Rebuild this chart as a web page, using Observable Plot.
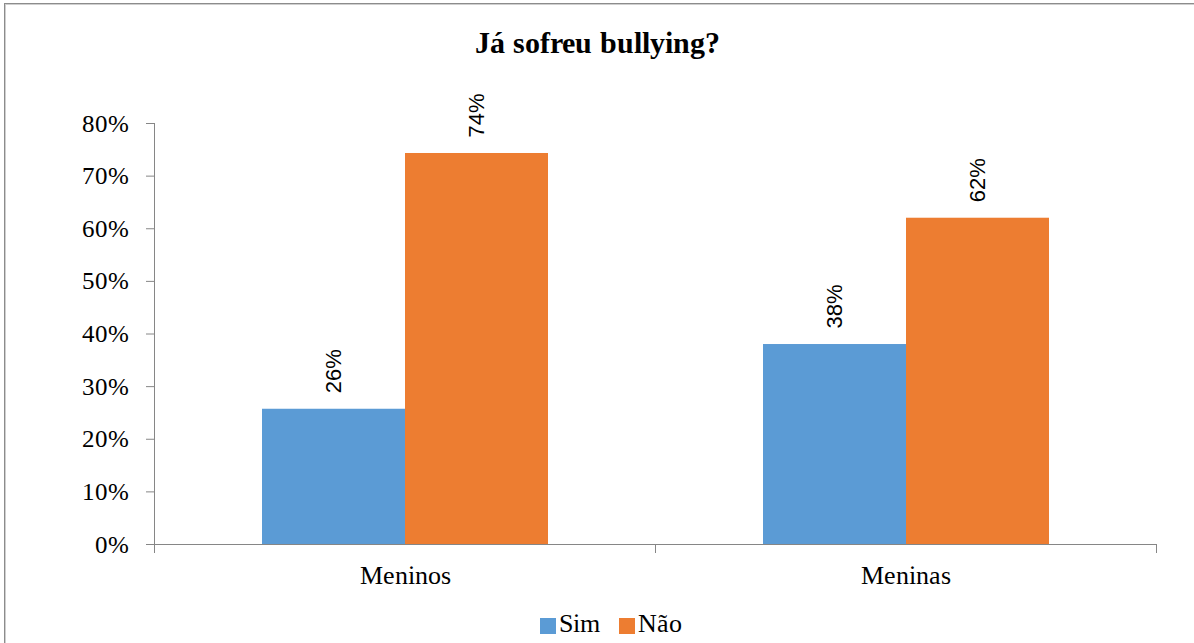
<!DOCTYPE html>
<html>
<head>
<meta charset="utf-8">
<script src="https://cdn.jsdelivr.net/npm/d3@7"></script>
<script src="https://cdn.jsdelivr.net/npm/@observablehq/plot@0.6"></script>
<style>
  @font-face { font-family: "TNR"; src: local("Liberation Serif"), local("LiberationSerif"), local("LiberationSerif-Regular"), local("Times New Roman"); font-weight: normal; }
  @font-face { font-family: "TNR"; src: local("Liberation Serif Bold"), local("LiberationSerif-Bold"), local("Times New Roman Bold"); font-weight: bold; }
  html, body { margin: 0; padding: 0; background: #fff; }
  #wrap { position: relative; width: 1194px; height: 643px; overflow: hidden; background: #fff; }
  #border { position: absolute; left: 4px; top: 3px; width: 1400px; height: 800px;
            border-top: 1px solid #8c8c8c; border-left: 1px solid #8c8c8c;
            box-shadow: inset 1px 1px 0 #cfcfcf; }
  #title { position: absolute; left: 0; width: 1194px; top: 28px; text-align: center;
           font-family: "TNR", "Liberation Serif", "DejaVu Serif", serif; font-weight: bold; font-size: 30px; line-height: 30px; color: #000; }
  #chart { position: absolute; left: 0; top: 70px; }
  #legend { position: absolute; top: 611px; left: 540px; height: 26px;
            font-family: "TNR", "Liberation Serif", "DejaVu Serif", serif; font-size: 26px; line-height: 26px; color: #000;
            display: flex; align-items: center; }
  #legend .sw { display: inline-block; width: 16px; height: 16px; margin-right: 3px; position: relative; top: 2px; }
  #legend .item { display: inline-flex; align-items: center; margin-right: 19px; }
  #chart svg text { fill: #000; }
  #chart g[aria-label="y-axis tick label"] text { font-family: "TNR", "Liberation Serif", "DejaVu Serif", serif; font-size: 25px; }
  #chart g[aria-label="fx-axis tick label"] text { font-family: "TNR", "Liberation Serif", "DejaVu Serif", serif; font-size: 26px; }
</style>
</head>
<body>
<div id="wrap">
  <div id="border"></div>
  <div id="title"></div>
  <div id="chart"></div>
  <div id="legend"></div>
</div>
<script>
// ---- data ----
const titleText = "Já sofreu bullying?";
const groups = ["Meninos", "Meninas"];
const answers = ["Sim", "Não"];
const simValues = [0.257, 0.38];
const naoValues = [0.743, 0.62];
const colors = ["#5B9BD5", "#ED7D31"];
const yTicks = [0, 0.1, 0.2, 0.3, 0.4, 0.5, 0.6, 0.7, 0.8];

const rows = [];
groups.forEach((g, i) => {
  rows.push({group: g, answer: answers[0], value: simValues[i]});
  rows.push({group: g, answer: answers[1], value: naoValues[i]});
});

document.getElementById("title").textContent = titleText;

const axisGray = "#868686";
const plot = Plot.plot({
  width: 1194,
  height: 530,
  marginTop: 53,
  marginBottom: 56,
  marginLeft: 154,
  marginRight: 38,
  style: { color: axisGray, background: "transparent", overflow: "visible" },
  fx: { domain: groups, padding: 0, label: null, axis: "bottom", tickSize: 0, tickPadding: 21 },
  x: { domain: answers, paddingInner: 0, paddingOuter: 0.75, axis: null },
  y: { domain: [0, 0.8], ticks: yTicks, tickFormat: d3.format(".0%"), tickSize: 8, tickPadding: 18, label: null, line: true },
  color: { domain: answers, range: colors },
  marks: [
    Plot.barY(rows, { fx: "group", x: "answer", y: "value", fill: "answer", inset: 0 }),
    Plot.ruleY([0], { stroke: axisGray }),
    Plot.frame({ anchor: "left", stroke: axisGray, insetTop: 421, insetBottom: -8 }),
    Plot.frame({ anchor: "right", stroke: axisGray, insetTop: 421, insetBottom: -8 }),
    Plot.text(rows, {
      fx: "group", x: "answer", y: "value",
      text: d => d3.format(".0%")(d.value),
      rotate: -90, textAnchor: "start", dy: -16,
      fontSize: 22, fontFamily: "Liberation Sans, Arial, sans-serif", fill: "#000"
    })
  ]
});
document.getElementById("chart").appendChild(plot);

const legend = document.getElementById("legend");
answers.forEach((a, i) => {
  const item = document.createElement("span");
  item.className = "item";
  const sw = document.createElement("span");
  sw.className = "sw";
  sw.style.background = colors[i];
  const t = document.createElement("span");
  t.textContent = a;
  item.appendChild(sw);
  item.appendChild(t);
  legend.appendChild(item);
});
</script>
</body>
</html>
